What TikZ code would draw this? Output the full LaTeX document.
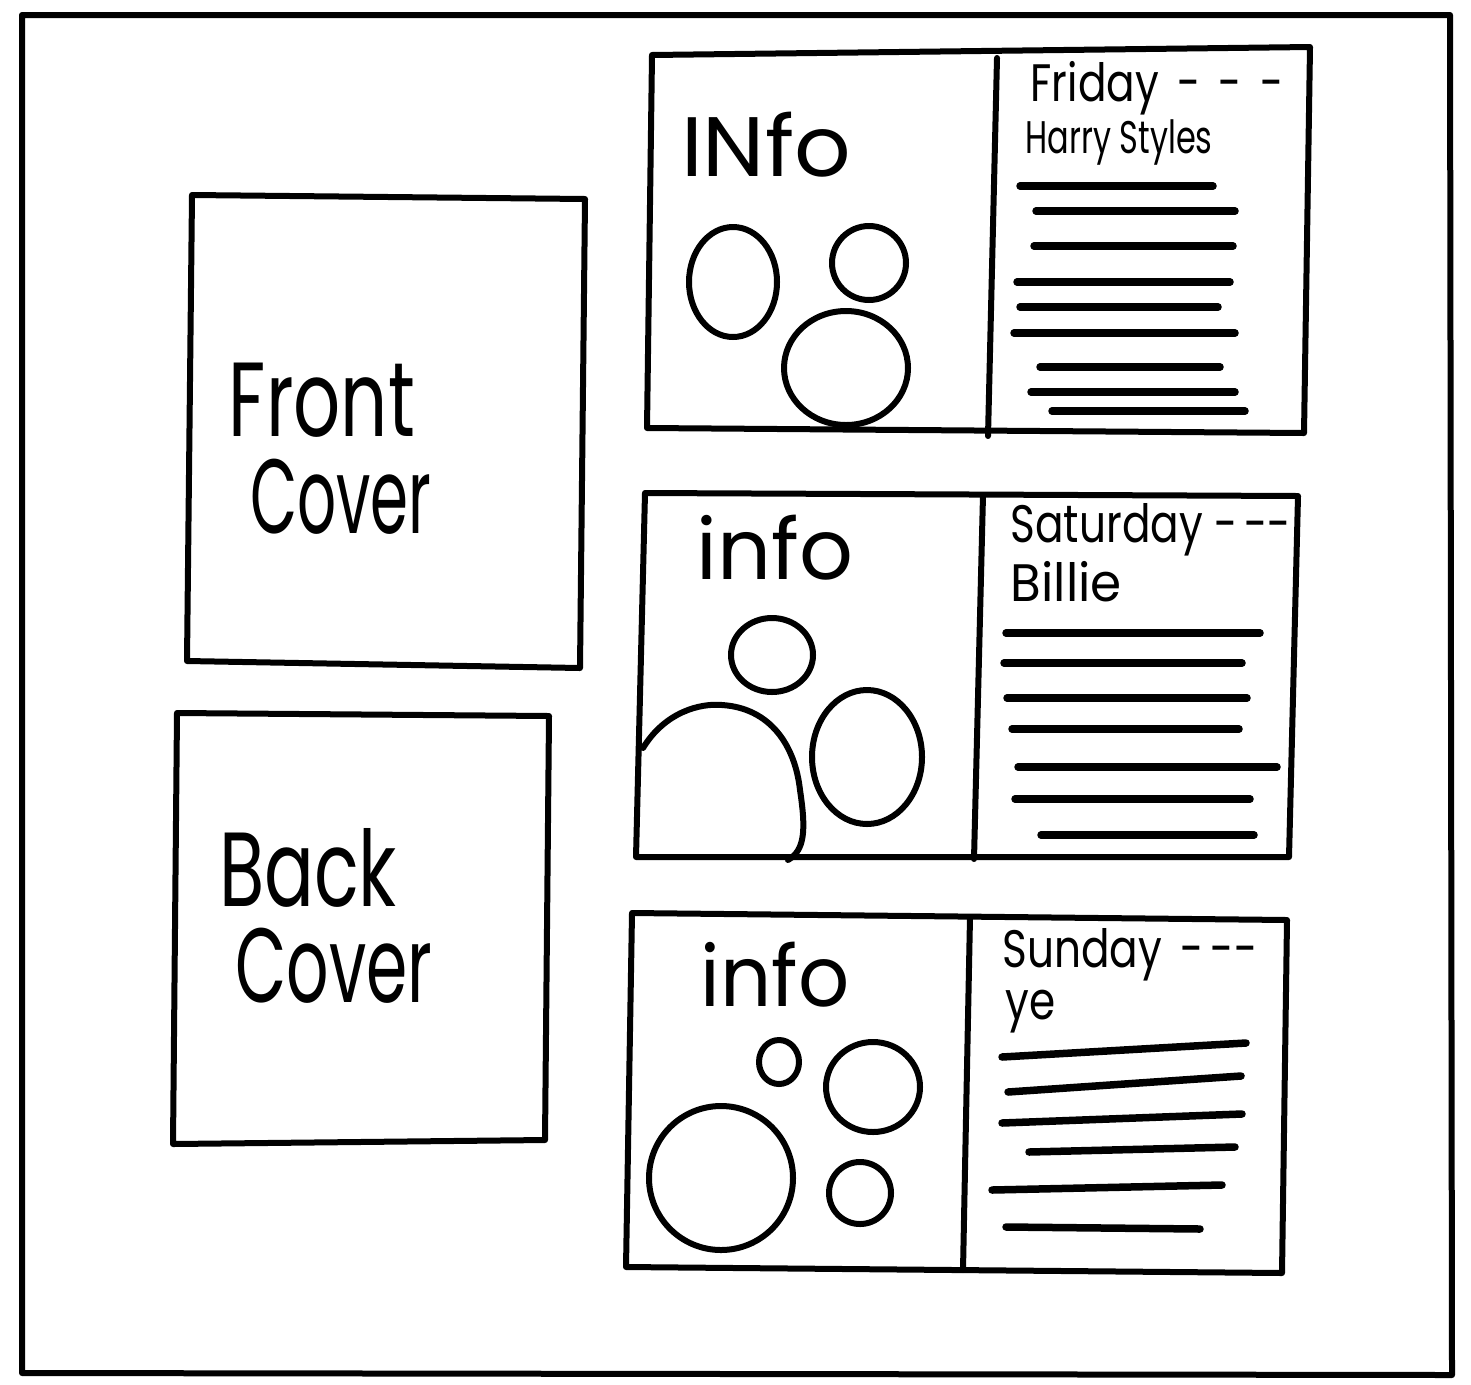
\documentclass[tikz,border=0pt]{standalone}
\usepackage{fontspec}
\setmainfont{Poppins}
\usepackage{graphicx}

% squeeze handwriting horizontally
\newcommand{\sqz}[2]{\scalebox{#1}[1]{#2}}

\begin{document}
\begin{tikzpicture}[
  x=0.1mm,
  y=-0.1mm,
  line join=round,
  line cap=round,
  pen/.style={draw=black,line width=0.6mm},
  textline/.style={draw=black,line width=0.75mm},
  bigword/.style={inner sep=0,font=\fontsize{30}{30}\selectfont},
  infoword/.style={inner sep=0,font=\fontsize{24}{24}\selectfont},
  dayword/.style={inner sep=0,anchor=west,font=\fontsize{15}{15}\selectfont}
]
  % Match the artwork frame.
  \useasboundingbox (0,0) rectangle (1471,1384);

  % Outer page frame.
  \draw[pen] (22,15) -- (1450,15) -- (1452,1375) -- (22,1373) -- cycle;

  % Front and back covers.
  \draw[pen] (192,195) -- (585,199) -- (580,668) -- (187,661) -- cycle;
  \draw[pen] (177,713) -- (549,716) -- (545,1140) -- (173,1144) -- cycle;
  \node[bigword] (front) at (322,400) {\sqz{0.70}{Front}};
  \node[bigword] (frontcover) at (341,497) {\sqz{0.58}{Cover}};
  \node[bigword] (back) at (308,868) {\sqz{0.70}{Back}};
  \node[bigword] (backcover) at (334,966) {\sqz{0.63}{Cover}};

  % Spread frames: outer box plus fold line.
  \draw[pen] (652,55) -- (1310,47) -- (1304,433) -- (647,428) -- cycle;
  \draw[pen] (997,58) -- (988,436);
  \draw[pen] (645,493) -- (1298,496) -- (1289,857) -- (636,857) -- cycle;
  \draw[pen] (983,495) -- (974,859);
  \draw[pen] (632,913) -- (1287,920) -- (1282,1273) -- (626,1267) -- cycle;
  \draw[pen] (970,917) -- (963,1270);

  % Left pages: info headings and photo circles.
  \node[infoword] (info1) at (766,145) {\sqz{1.05}{INfo}};
  \node[infoword] (info2) at (775,548) {\sqz{1.0}{info}};
  \node[infoword] (info3) at (775,975) {\sqz{0.95}{info}};

  \draw[pen] (733,282) ellipse[x radius=44,y radius=55];
  \draw[pen] (869,263) circle[radius=37];
  \draw[pen] (846,368) ellipse[x radius=62,y radius=57];

  \draw[pen] (772,655) ellipse[x radius=41,y radius=37];
  \draw[pen] (867,757) ellipse[x radius=55,y radius=67];
  \draw[pen] (643,748) .. controls (665,712) and (700,703) .. (722,705)
    .. controls (770,708) and (795,745) .. (800,790)
    .. controls (806,830) and (805,850) .. (788,860);

  \draw[pen] (779,1062) ellipse[x radius=20,y radius=22];
  \draw[pen] (873,1087) ellipse[x radius=47,y radius=45];
  \draw[pen] (721,1178) circle[radius=72];
  \draw[pen] (860,1193) circle[radius=31];

  % Right pages: day, artist and text lines.
  \node[dayword] (fri) at (1030,88) {\sqz{0.8}{Friday\, -\, -\, -}};
  \node[dayword,font=\fontsize{13}{13}\selectfont] (harry) at (1025,142) {\sqz{0.7}{Harry Styles}};
  \node[dayword] (sat) at (1010,530) {\sqz{0.8}{Saturday -\,-{}-}};
  \node[dayword] (billie) at (1010,582) {\sqz{0.95}{Billie}};
  \node[dayword] (sun) at (1002,955) {\sqz{0.8}{Sunday\, -\,-{}-}};
  \node[dayword] (ye) at (1005,1012) {\sqz{0.8}{ye}};

  \foreach \xa/\xb/\yy in {1020/1213/186,1036/1235/211,1034/1233/246,
    1017/1230/282,1020/1218/307,1014/1235/333,1040/1220/367,
    1031/1235/392,1052/1245/411} {
    \draw[textline] (\xa,\yy) -- (\xb,\yy);
  }
  \foreach \xa/\xb/\yy in {1006/1260/633,1004/1242/663,1007/1247/698,
    1012/1239/729,1018/1277/767,1015/1250/799,1041/1254/835} {
    \draw[textline] (\xa,\yy) -- (\xb,\yy);
  }
  \foreach \xa/\ya/\xb/\yb in {1002/1057/1246/1043,1008/1092/1241/1076,
    1002/1123/1242/1114,1029/1152/1235/1147,992/1190/1222/1185,
    1006/1227/1200/1229} {
    \draw[textline] (\xa,\ya) -- (\xb,\yb);
  }
\end{tikzpicture}
\end{document}
